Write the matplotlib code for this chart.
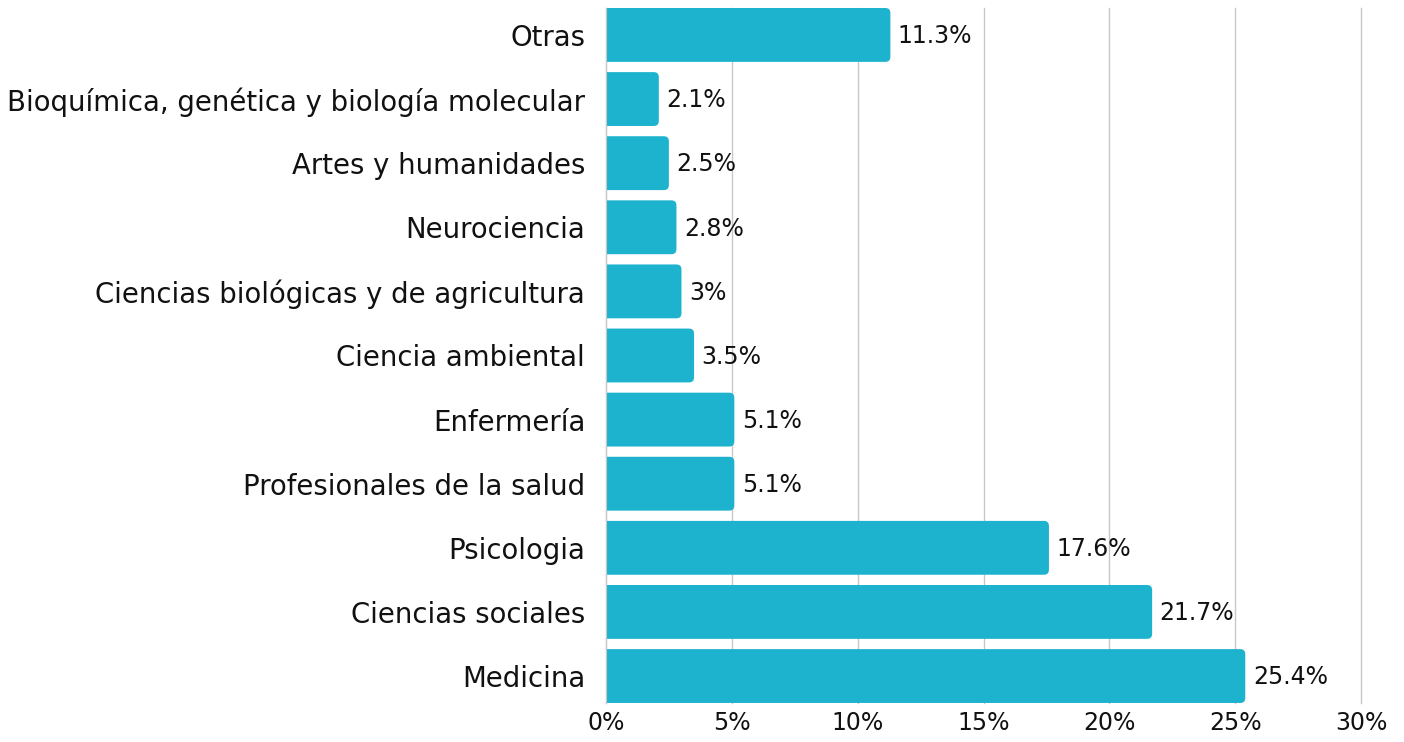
import matplotlib.pyplot as plt
from matplotlib.patches import FancyBboxPatch
from matplotlib.ticker import FuncFormatter

categories = [
    "Medicina",
    "Ciencias sociales",
    "Psicologia",
    "Profesionales de la salud",
    "Enfermería",
    "Ciencia ambiental",
    "Ciencias biológicas y de agricultura",
    "Neurociencia",
    "Artes y humanidades",
    "Bioquímica, genética y biología molecular",
    "Otras",
]
values = [25.4, 21.7, 17.6, 5.1, 5.1, 3.5, 3.0, 2.8, 2.5, 2.1, 11.3]
value_labels = ["25.4%", "21.7%", "17.6%", "5.1%", "5.1%", "3.5%", "3%", "2.8%", "2.5%", "2.1%", "11.3%"]
xticks = [0, 5, 10, 15, 20, 25, 30]

bar_color = "#1db3ce"
text_color = "#111111"
plt.rcParams['font.family'] = ['DejaVu Sans']

fig = plt.figure(figsize=(14.04, 7.42), dpi=100)
ax = fig.add_axes([0.4316, 0.0526, 0.5378, 0.9366])

bar_h = 0.84
ax.set_xlim(0, 30)
ax.set_ylim(-bar_h / 2, len(values) - 1 + bar_h / 2)

# pixel scale so the corner rounding looks circular
px_x = 0.5378 * 1404 / 30
px_y = 0.9366 * 742 / (len(values) - 1 + bar_h)
r = 5 / px_x
for i, v in enumerate(values):
    patch = FancyBboxPatch((-1, i - bar_h / 2), v + 1, bar_h,
                           boxstyle=f"round,pad=0,rounding_size={r}",
                           mutation_aspect=px_x / px_y,
                           facecolor=bar_color, edgecolor="none", zorder=3)
    ax.add_patch(patch)
    ax.text(v + 0.3, i - 0.02, value_labels[i], va="center", ha="left",
            fontsize=17, color=text_color, zorder=4)

ax.set_yticks(range(len(categories)))
ax.set_yticklabels(categories, fontsize=19.8, color=text_color)
ax.set_xticks(xticks)
ax.xaxis.set_major_formatter(FuncFormatter(lambda x, p: f"{int(x)}%"))
ax.tick_params(axis="x", labelsize=17, colors=text_color, length=0, pad=6)
ax.tick_params(axis="y", length=0, pad=15)

ax.grid(axis="x", color="#c8c8c8", linewidth=1, zorder=0)
for gl in ax.get_xgridlines():
    gl.set_clip_on(False)
for s in ["top", "right", "bottom"]:
    ax.spines[s].set_visible(False)
ax.spines["left"].set_color("#c8c8c8")
ax.spines["left"].set_zorder(5)

fig.savefig("out.png", dpi=100)
